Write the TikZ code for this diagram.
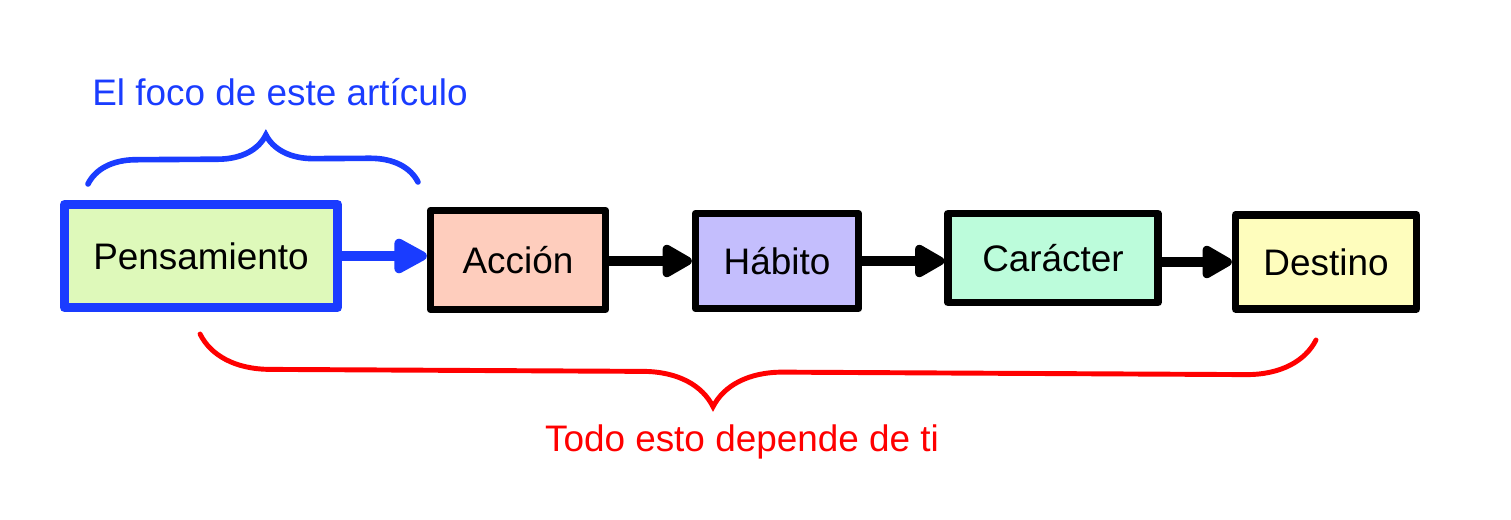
\documentclass[tikz,border=0pt]{standalone}
\usepackage{fontspec}
\setmainfont{Liberation Sans}
\usepackage{tikz}
\usetikzlibrary{arrows.meta,decorations.pathreplacing}
\definecolor{pensfill}{HTML}{DEF9BA}
\definecolor{accfill}{HTML}{FECDBD}
\definecolor{habfill}{HTML}{C4BEFD}
\definecolor{carfill}{HTML}{BCFCDB}
\definecolor{desfill}{HTML}{FEFDBD}
\definecolor{focoblue}{HTML}{1A3CFF}
\definecolor{todored}{HTML}{FF0000}

\begin{document}
\begin{tikzpicture}[x=0.1mm,y=-0.1mm,font=\fontsize{10.5}{12}\selectfont,
  box/.style={draw=black,line width=2.1pt,line join=round,inner sep=0pt},
  flow/.style={line width=2.6pt,-{Triangle[round,length=3.4mm,width=3.6mm]}},
  curly/.style={decorate,decoration={brace,amplitude=#1},line width=1.6pt,line cap=round}]
\useasboundingbox (0,0) rectangle (1511,520);
% the five steps
\node[box,draw=focoblue,line width=2.6pt,fill=pensfill,minimum width=2.73cm,minimum height=1.03cm] (pens) at (201,256) {Pensamiento};
\node[box,fill=accfill,minimum width=1.75cm,minimum height=0.99cm] (acc) at (518,260) {Acción};
\node[box,fill=habfill,minimum width=1.63cm,minimum height=0.95cm] (hab) at (777,261) {Hábito};
\node[box,fill=carfill,minimum width=2.10cm,minimum height=0.89cm] (car) at (1053,258) {Carácter};
\node[box,fill=desfill,minimum width=1.81cm,minimum height=0.94cm] (des) at (1326,262) {Destino};
% arrows between steps
\draw[flow,focoblue,-{Triangle[round,length=3.8mm,width=3.8mm]}] (pens.east) -- (pens.east -| acc.west);
\draw[flow] (hab.west -| acc.east) -- (hab.west);
\draw[flow] (hab.east) -- (hab.east -| car.west);
\draw[flow] (des.west -| car.east) -- (des.west);
% braces and their labels
\coordinate (focoL) at (88,184);
\coordinate (focoR) at (418,182);
\draw[curly=4.8mm,focoblue,decoration={aspect=0.54}] (focoL) -- (focoR);
\node[text=focoblue] (foco) at (280,92) {El foco de este artículo};
\coordinate (todoR) at (1316,340);
\coordinate (todoL) at (200,334);
\draw[curly=7mm,todored,line width=1.4pt,decoration={aspect=0.54}] (todoR) -- (todoL);
\node[text=todored] (todo) at (742,442) {Todo esto depende de ti};
\end{tikzpicture}
\end{document}
